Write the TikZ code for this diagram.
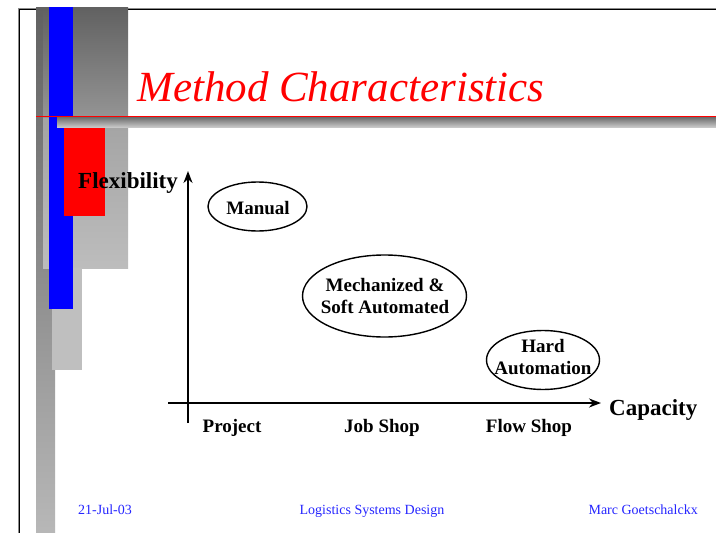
\documentclass[tikz,border=0pt]{standalone}
\usepackage{fontspec}
\setmainfont{Liberation Serif}
\usetikzlibrary{arrows.meta,shapes.geometric}
\definecolor{footblue}{rgb}{0.15,0.15,1}
\tikzset{
  ovaltext/.style={inner sep=0pt,align=center,
    font=\fontsize{19}{22}\selectfont\bfseries},
  ovalline/.style={draw=black,line width=1.4pt},
  axislabel/.style={inner sep=0pt,font=\fontsize{19}{22}\selectfont\bfseries},
  biglabel/.style={inner sep=0pt,font=\fontsize{23}{26}\selectfont\bfseries},
  foot/.style={inner sep=0pt,text=footblue,font=\fontsize{14}{16}\selectfont},
  axis/.style={line width=2pt,-{Stealth[length=12pt,width=9pt]}},
}
\begin{document}
\begin{tikzpicture}[x=1pt,y=-1pt]
\useasboundingbox (0,0) rectangle (716,533);
\fill[white] (0,0) rectangle (716,533);
% frame
\draw[black!45,line width=1pt] (18,540) -- (18,8) -- (720,8);
\draw[black,line width=1.6pt] (19.5,540) -- (19.5,9.5) -- (720,9.5);
% left decoration
\shade[top color=black!62,bottom color=black!28] (36,7) rectangle (55,533);
\shade[top color=black!36,bottom color=black!26] (43,117) rectangle (128,268);
\shade[top color=black!62,bottom color=black!42] (43,7) rectangle (128,117);
\fill[black!25] (52,268) rectangle (82,370);
\fill[blue] (49,7) rectangle (73,309);
\fill[red] (64,127) rectangle (105,216);
\shade[top color=black!58,bottom color=black!22] (57,117) rectangle (716,127);
\draw[red,line width=1.2pt] (36,116.5) -- (716,116.5);
% title
\node[anchor=base west,inner sep=0pt,text=red,font=\fontsize{43}{50}\selectfont\itshape] (title) at (137,101) {Method Characteristics};
% axes
\coordinate (yb) at (188,423);
\coordinate (yt) at (188,171);
\coordinate (xl) at (168,403);
\coordinate (xr) at (601,403);
\draw[axis] (yb) -- (yt);
\draw[axis] (xl) -- (xr);
\node[biglabel,anchor=base west] (flex) at (78,188) {Flexibility};
\node[biglabel,anchor=base west] (cap) at (609,415) {Capacity};
\node[axislabel,anchor=base] (proj) at (232,432) {Project};
\node[axislabel,anchor=base] (job) at (382,432) {Job Shop};
\node[axislabel,anchor=base] (flow) at (529,432) {Flow Shop};
% ovals
\node[ovaltext] (manual) at (258,208) {Manual};
\draw[ovalline] (257.5,206.5) ellipse [x radius=49.5pt,y radius=24.5pt];
\node[ovaltext] (mech) at (385,296) {Mechanized \&\\Soft Automated};
\draw[ovalline] (384.5,296) ellipse [x radius=82pt,y radius=41pt];
\node[ovaltext] (hard) at (543,357) {Hard\\Automation};
\draw[ovalline] (543,360) ellipse [x radius=56.5pt,y radius=29.5pt];
% footer
\node[foot,anchor=base west] (date) at (78,514) {21-Jul-03};
\node[foot,anchor=base] (course) at (372,514) {Logistics Systems Design};
\node[foot,anchor=base east] (author) at (698,514) {Marc Goetschalckx};
\end{tikzpicture}
\end{document}
